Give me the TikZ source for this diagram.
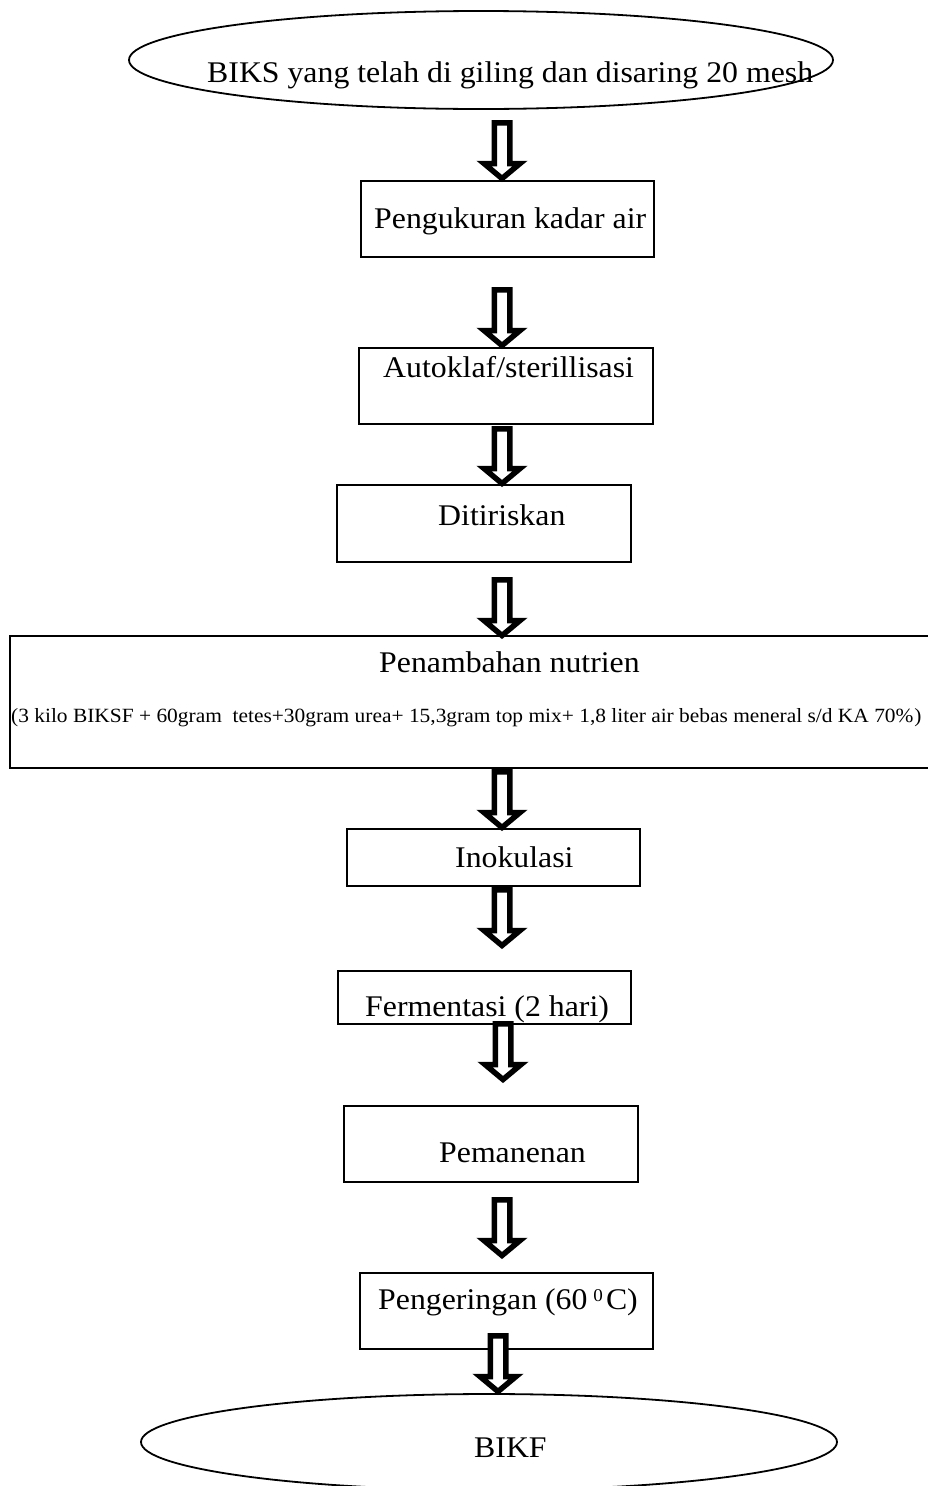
\documentclass[tikz,border=0pt]{standalone}
\usepackage{fontspec}
\setmainfont[FakeStretch=1.06]{Liberation Serif}
\usetikzlibrary{shapes.geometric,calc}
\tikzset{
  box/.style={draw, line width=1.8pt, rectangle, inner sep=0pt, outer sep=0pt},
  oval/.style={draw, line width=1.8pt, ellipse, inner sep=0pt, outer sep=0pt},
  lbl/.style={inner sep=0pt, anchor=base west, font=\fontsize{30}{36}\selectfont},
  smalllbl/.style={inner sep=0pt, anchor=base west, font=\fontsize{20.2}{24}\selectfont},
  blockarrow/.style={draw, fill=white, line width=5.5pt, line join=miter},
}
\newcommand{\blockarr}[2]{%
  \draw[blockarrow] let \p1=(#1), \p2=(#2) in
    (\x1-7.75pt,\y1-2.75pt) -- (\x1+7.75pt,\y1-2.75pt) -- (\x1+7.75pt,\y2+18.5pt) --
    (\x1+18pt,\y2+18.5pt) -- (\x1,\y2+3.5pt) -- (\x1-18pt,\y2+18.5pt) --
    (\x1-7.75pt,\y2+18.5pt) -- cycle;}
\begin{document}
\begin{tikzpicture}[x=1pt,y=-1pt]
\useasboundingbox (0,0) rectangle (927,1486);
\fill[white] (0,0) rectangle (927,1486);

% shapes
\node[oval, minimum width=704pt, minimum height=98pt] (e1) at (481,60) {};
\node[box, minimum width=293pt, minimum height=76pt] (b1) at (507.5,219) {};
\node[box, minimum width=294pt, minimum height=76pt] (b2) at (506,386) {};
\node[box, minimum width=294pt, minimum height=77pt] (b3) at (484,523.5) {};
\node[box, minimum width=929pt, minimum height=132pt] (b4) at (474.5,702) {};
\node[box, minimum width=293pt, minimum height=57pt] (b5) at (493.5,857.5) {};
\node[box, minimum width=293pt, minimum height=53pt] (b6) at (484.5,997.5) {};
\node[box, minimum width=294pt, minimum height=76pt] (b7) at (491,1144) {};
\node[box, minimum width=293pt, minimum height=76pt] (b8) at (506.5,1311) {};
\node[oval, minimum width=696pt, minimum height=96pt] (e2) at (489,1442) {};

% texts
\node[lbl] (t0) at (207,82) {BIKS yang telah di giling dan disaring 20 mesh};
\node[lbl] (t1) at (374,228) {Pengukuran kadar air};
\node[lbl] (t2) at (383,377) {Autoklaf/sterillisasi};
\node[lbl] (t3) at (438,525) {Ditiriskan};
\node[lbl] (t4) at (379,672) {Penambahan nutrien};
\node[smalllbl] (t4b) at (11,722) {(3 kilo BIKSF + 60gram\ \ tetes+30gram urea+ 15,3gram top mix+ 1,8 liter air bebas meneral s/d KA 70\%\kern1pt)};
\node[lbl] (t5) at (455,867) {Inokulasi};
\node[lbl] (t6) at (365,1016) {Fermentasi (2 hari)};
\node[lbl] (t7) at (439,1162) {Pemanenan};
\node[lbl] (t8) at (378,1309) {Pengeringan (60\kern6pt\raisebox{8pt}{\fontsize{18}{18}\selectfont 0}\kern3pt C)};
\node[lbl] (t9) at (474,1457) {BIKF};

% arrow end points
\coordinate (a1s) at (502,120);  \coordinate (a1e) at (502,182);
\coordinate (a2s) at (502,287);  \coordinate (a2e) at (502,349);
\coordinate (a3s) at (502,426);  \coordinate (a3e) at (502,487);
\coordinate (a4s) at (502,577);  \coordinate (a4e) at (502,639);
\coordinate (a5s) at (502,769);  \coordinate (a5e) at (502,831);
\coordinate (a6s) at (502,887);  \coordinate (a6e) at (502,949);
\coordinate (a7s) at (503,1021); \coordinate (a7e) at (503,1083);
\coordinate (a8s) at (502,1197); \coordinate (a8e) at (502,1259);
\coordinate (a9s) at (498,1333); \coordinate (a9e) at (498,1395);

\blockarr{a1s}{a1e}
\blockarr{a2s}{a2e}
\blockarr{a3s}{a3e}
\blockarr{a4s}{a4e}
\blockarr{a5s}{a5e}
\blockarr{a6s}{a6e}
\blockarr{a7s}{a7e}
\blockarr{a8s}{a8e}
\blockarr{a9s}{a9e}
\end{tikzpicture}
\end{document}
